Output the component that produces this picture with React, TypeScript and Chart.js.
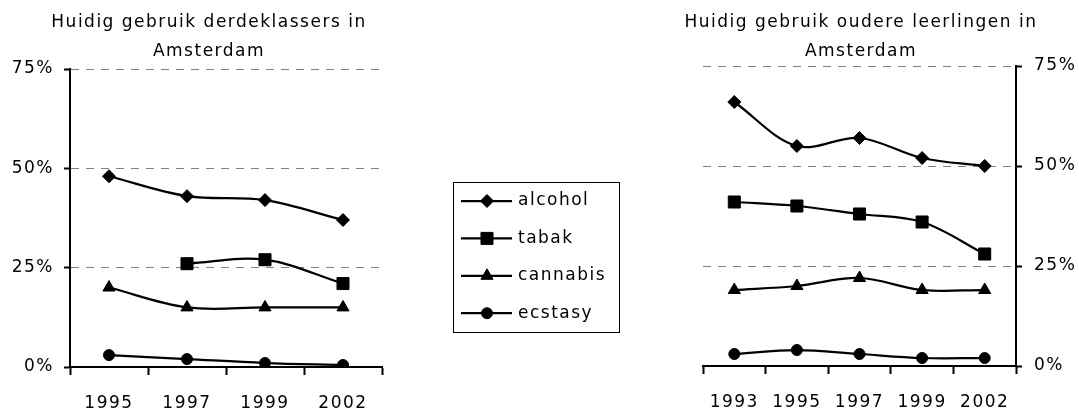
import React, { useEffect, useRef } from 'react';
import { Chart, registerables } from 'chart.js';
import { drawPoint } from 'chart.js/helpers';

Chart.register(...registerables);

const FONT = 'DejaVu Sans';

const seriesNames = ['alcohol', 'tabak', 'cannabis', 'ecstasy'];
const pointStyles = ['rectRot', 'rect', 'triangle', 'circle'];
const pointRadii = [6.5, 8.5, 7, 5.5];

const leftTitle = ['Huidig gebruik derdeklassers in', 'Amsterdam'];
const leftYears = ['1995', '1997', '1999', '2002'];
const leftAlcohol = [48, 43, 42, 37];
const leftTabak = [null, 26, 27, 21];
const leftCannabis = [20, 15, 15, 15];
const leftEcstasy = [3, 2, 1, 0.5];

const rightTitle = ['Huidig gebruik oudere leerlingen in', 'Amsterdam'];
const rightYears = ['1993', '1995', '1997', '1999', '2002'];
const rightAlcohol = [66, 55, 57, 52, 50];
const rightTabak = [41, 40, 38, 36, 28];
const rightCannabis = [19, 20, 22, 19, 19];
const rightEcstasy = [3, 4, 3, 2, 2];

const yTicks = [0, 25, 50, 75];

const spacingPlugin = {
  id: 'letterSpacing',
  beforeUpdate(chart: any) {
    chart.ctx.letterSpacing = '1.5px';
  },
  beforeDraw(chart: any) {
    chart.ctx.letterSpacing = '1.5px';
  },
};

const legendPlugin = {
  id: 'boxLegend',
  afterDraw(chart: any) {
    const { ctx, chartArea } = chart;
    const boxLeft = chartArea.right + 71;
    const boxTop = 182;
    const boxW = 166;
    const boxH = 150;
    ctx.save();
    ctx.letterSpacing = '1.5px';
    ctx.strokeStyle = '#000';
    ctx.lineWidth = 1;
    ctx.strokeRect(boxLeft + 0.5, boxTop + 0.5, boxW, boxH);
    chart.data.datasets.forEach((ds: any, i: number) => {
      const y = boxTop + 19 + i * 37.4;
      ctx.beginPath();
      ctx.strokeStyle = '#000';
      ctx.lineWidth = 2.25;
      ctx.moveTo(boxLeft + 8, y);
      ctx.lineTo(boxLeft + 59, y);
      ctx.stroke();
      ctx.fillStyle = '#000';
      ctx.strokeStyle = '#000';
      ctx.lineWidth = 1;
      drawPoint(ctx, { pointStyle: ds.pointStyle, radius: ds.pointRadius, borderWidth: 1, rotation: 0 } as any, boxLeft + 34, y);
      ctx.fillStyle = '#000';
      ctx.font = `normal 17px "${FONT}"`;
      ctx.textBaseline = 'middle';
      ctx.textAlign = 'left';
      ctx.fillText(ds.label, boxLeft + 65, y);
    });
    ctx.restore();
  },
};

function makeDatasets(series: (number | null)[][]) {
  return series.map((data, i) => ({
    label: seriesNames[i],
    data,
    borderColor: '#000',
    backgroundColor: '#000',
    borderWidth: 2.25,
    pointStyle: pointStyles[i],
    pointRadius: pointRadii[i],
    pointHoverRadius: pointRadii[i],
    pointBorderWidth: 1,
    pointBackgroundColor: '#000',
    pointBorderColor: '#000',
    tension: 0.35,
    fill: false,
  }));
}

function spacer(position: 'left' | 'right', width: number) {
  return {
    type: 'linear',
    position,
    display: true,
    ticks: { display: false },
    grid: { display: false, drawTicks: false },
    border: { display: false },
    afterFit: (s: any) => { s.width = width; },
  };
}

function makeConfig(side: 'left' | 'right', labels: string[], series: (number | null)[][], title: string[]) {
  const isLeft = side === 'left';
  const scales: any = {
    x: {
      type: 'category',
      offset: true,
      grid: { offset: true, drawOnChartArea: false, drawTicks: true, tickLength: 8, tickColor: '#000', tickWidth: 2 },
      border: { display: true, color: '#000', width: 2 },
      ticks: { padding: 18, color: '#000', font: { family: FONT, size: 17 }, maxRotation: 0, autoSkip: false },
      afterFit: (s: any) => { s.height = isLeft ? 73 : 74; },
    },
    y: {
      type: 'linear',
      position: side,
      min: yTicks[0],
      max: yTicks[yTicks.length - 1],
      ticks: {
        stepSize: yTicks[1] - yTicks[0],
        padding: isLeft ? 10 : 12,
        color: '#000',
        font: { family: FONT, size: 17 },
        callback: (v: any) => v + '%',
      },
      grid: {
        color: (c: any) => (c.tick && c.tick.value === 0 ? 'rgba(0,0,0,0)' : '#808080'),
        lineWidth: 1,
        drawTicks: true,
        tickLength: 6,
        tickColor: '#000',
        tickWidth: 2,
        tickBorderDash: [],
      },
      border: { display: true, color: '#000', width: 2, dash: [8, 7] },
      afterFit: (s: any) => { s.width = isLeft ? 64 : 63; },
    },
    pad: isLeft ? spacer('right', 30) : spacer('left', 60),
  };
  return {
    type: 'line' as const,
    data: { labels, datasets: makeDatasets(series) },
    options: {
      responsive: false,
      animation: false as const,
      layout: { padding: isLeft ? { left: 6, right: 228, top: 0, bottom: 0 } : { left: 3, right: 0, top: 0, bottom: 0 } },
      plugins: {
        legend: { display: false },
        tooltip: { enabled: false },
        title: {
          display: true,
          text: title,
          color: '#000',
          font: { family: FONT, size: 17, weight: 'normal' as const, lineHeight: 29 / 17 },
          padding: { top: 8, bottom: isLeft ? 3 : 0 },
        },
      },
      scales,
    },
    plugins: isLeft ? [spacingPlugin, legendPlugin] : [spacingPlugin],
  };
}

export default function App() {
  const leftRef = useRef<HTMLCanvasElement>(null);
  const rightRef = useRef<HTMLCanvasElement>(null);

  useEffect(() => {
    const left = new Chart(leftRef.current as HTMLCanvasElement, makeConfig('left', leftYears, [leftAlcohol, leftTabak, leftCannabis, leftEcstasy], leftTitle) as any);
    const right = new Chart(rightRef.current as HTMLCanvasElement, makeConfig('right', rightYears, [rightAlcohol, rightTabak, rightCannabis, rightEcstasy], rightTitle) as any);
    return () => {
      left.destroy();
      right.destroy();
    };
  }, []);

  return (
    <div style={{ position: 'absolute', left: 0, top: 0, width: 1079, height: 410, overflow: 'hidden', background: '#fff' }}>
      <canvas ref={leftRef} width={640} height={440} style={{ position: 'absolute', left: 0, top: 0 }} />
      <canvas ref={rightRef} width={439} height={440} style={{ position: 'absolute', left: 640, top: 0 }} />
    </div>
  );
}
